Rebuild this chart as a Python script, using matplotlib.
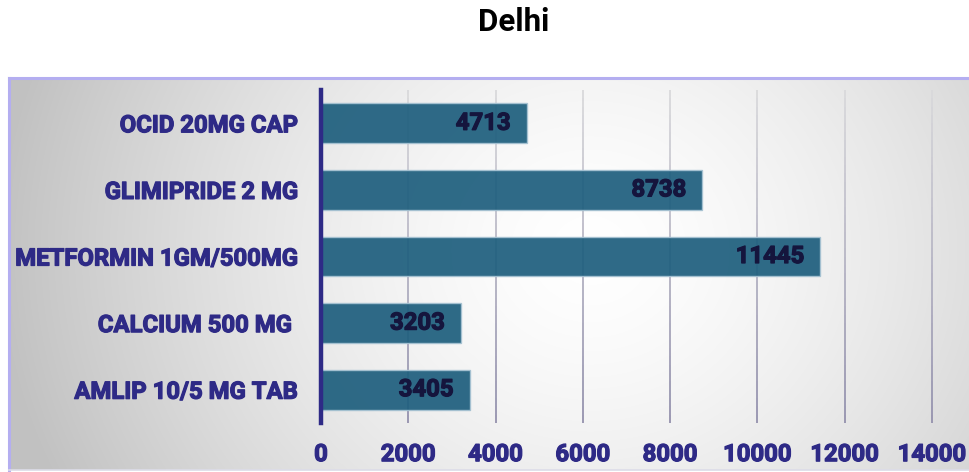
import numpy as np
import matplotlib
matplotlib.use("Agg")
import matplotlib.pyplot as plt
from matplotlib.collections import LineCollection
import matplotlib.patheffects as pe

plt.rcParams['font.family'] = ['Roboto', 'DejaVu Sans']

categories = ["AMLIP 10/5 MG TAB", "CALCIUM 500 MG ", "METFORMIN 1GM/500MG",
              "GLIMIPRIDE 2 MG", "OCID 20MG CAP"]
values = [3405, 3203, 11445, 8738, 4713]
xticks = [0, 2000, 4000, 6000, 8000, 10000, 12000, 14000]
title = "Delhi"

lab_size = 17.2
label_color = '#2e2a86'
value_color = '#15153d'

W, H = 969, 472
fig = plt.figure(figsize=(W / 100, H / 100), dpi=100)
fig.patch.set_facecolor('white')

# background panel with radial gradient
bx0, by0, bx1, by1 = 9, 78, 969, 470
bg = fig.add_axes([bx0 / W, 1 - by1 / H, (bx1 - bx0) / W, (by1 - by0) / H], zorder=0)
xs = np.arange(bx0, bx1)
ys = np.arange(by0, by1)
XX, YY = np.meshgrid(xs, ys)
cx, cy = 590, 250
d = np.sqrt((XX - cx) ** 2 + ((YY - cy) * 1.1) ** 2)
v = 1 - 0.24 * np.clip(d / 590, 0, 1) ** 1.5
img = np.dstack([v, v, v])
bg.imshow(img, aspect='auto', extent=[0, 1, 0, 1], interpolation='bilinear')
bg.set_xlim(0, 1); bg.set_ylim(0, 1)
bg.set_xticks([]); bg.set_yticks([])
bg.spines['right'].set_visible(False)
bg.spines['top'].set_color('#b4aef0'); bg.spines['top'].set_linewidth(2.2)
bg.spines['left'].set_color('#b4aef0'); bg.spines['left'].set_linewidth(2.2)
bg.spines['bottom'].set_color('#dcdce8'); bg.spines['bottom'].set_linewidth(1.2)

# main axes
ax_l, ax_r, ax_t, ax_b = 321, 932, 90, 423
ax = fig.add_axes([ax_l / W, 1 - ax_b / H, (ax_r - ax_l) / W, (ax_b - ax_t) / H], zorder=1)
ax.patch.set_alpha(0)
ax.set_xlim(0, 14000)
ax.set_ylim(-0.5, len(categories) - 0.5)

# gradient gridlines
segs, cols = [], []
n = 40
yy = np.linspace(-0.5, len(categories) - 0.5, n + 1)
top_c = np.array([0.85, 0.85, 0.86])
bot_c = np.array([0.58, 0.57, 0.68])
for xt in xticks[1:]:
    for i in range(n):
        segs.append([(xt, yy[i]), (xt, yy[i + 1])])
        t = i / (n - 1)
        cols.append(tuple(top_c * t + bot_c * (1 - t)))
lc = LineCollection(segs, colors=cols, linewidths=1.3, zorder=1, clip_on=False)
ax.add_collection(lc)

ypos = np.arange(len(categories))
bars = ax.barh(ypos, values, height=0.6, color='#1f5f7e', alpha=0.93,
               edgecolor='#a6c2d2', linewidth=1.0, zorder=2)
for y, val in zip(ypos, values):
    ax.annotate(str(val), xy=(val, y), xytext=(-16, 0), textcoords='offset pixels',
                ha='right', va='center', fontsize=lab_size, fontweight='bold',
                color=value_color, zorder=3,
                path_effects=[pe.withStroke(linewidth=0.9, foreground=value_color)])

ax.set_yticks(ypos)
ax.set_yticklabels(categories)
ax.set_xticks(xticks)
ax.set_xticklabels([str(x) for x in xticks])
ax.tick_params(axis='both', length=0, labelsize=lab_size, labelcolor=label_color)
ax.tick_params(axis='y', pad=16.5)
ax.tick_params(axis='x', pad=14.5)
for lab in ax.get_xticklabels() + ax.get_yticklabels():
    lab.set_fontweight('bold')
    lab.set_path_effects([pe.withStroke(linewidth=0.9, foreground=label_color)])

for s in ['top', 'right', 'bottom']:
    ax.spines[s].set_visible(False)
ax.spines['left'].set_color(label_color)
ax.spines['left'].set_linewidth(3.2)
ax.spines['left'].set_zorder(4)

fig.text(514 / W, 1 - 22 / H, title, ha='center', va='center',
         fontsize=22.5, fontweight='bold', color='black')

fig.savefig('out.png', dpi=100)
